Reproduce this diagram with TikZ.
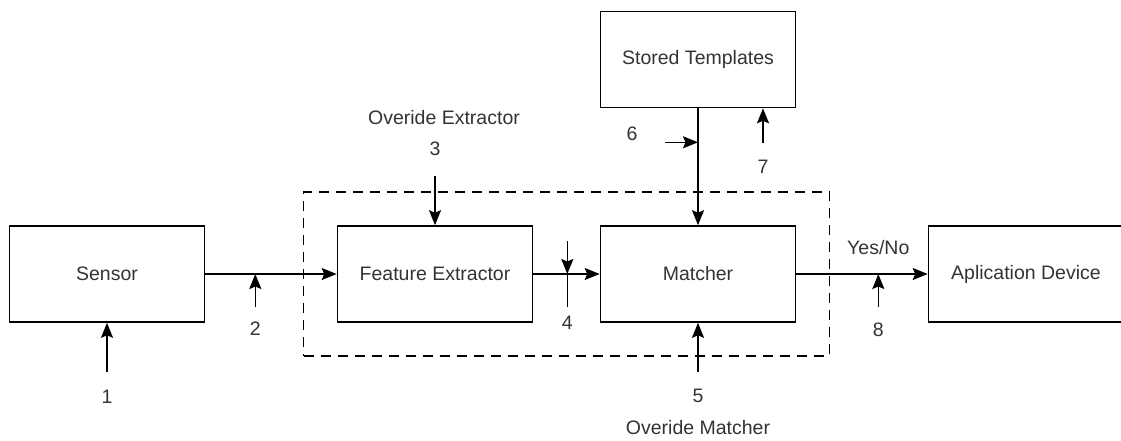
\documentclass[tikz,border=0pt]{standalone}
\usepackage{fontspec}
\setmainfont{Liberation Sans}
\usetikzlibrary{arrows.meta, fit}
\tikzstyle{block} = [rectangle, minimum width=195pt, minimum height=96pt, text centered, draw=black, line width=1.6pt, text=black!80, font=\fontsize{19.5}{23}\selectfont]
\tikzstyle{group} = [rectangle, draw=black, line width=1.5pt, dash pattern=on 10pt off 7pt, inner sep=33pt]
\tikzstyle{note} = [text=black!80, font=\fontsize{19.5}{23}\selectfont, inner sep=0pt]
\tikzstyle{wire} = [line width=1.6pt]
\tikzstyle{arrow} = [line width=1.6pt, -{Stealth[length=15pt, width=12pt, inset=2.5pt]}]

\begin{document}
\begin{tikzpicture}[x=1pt, y=-1pt, node distance=328pt]
\useasboundingbox (0,0) rectangle (1121,440);
% Define the blocks
\node (sensor) [block] at (107,274) {Sensor};
\node (extractor) [block, right of=sensor] {Feature Extractor};
\node (matcher) [block, right of=extractor, xshift=-65pt] {Matcher};
\node (device) [block, right of=matcher] {Aplication Device};
\node (stored) [block, above of=matcher, node distance=214.5pt] {Stored Templates};
\node (system) [group, fit=(extractor) (matcher)] {};

% Points where the attacks meet the lines
\coordinate (j2) at ([xshift=50pt]sensor.east);
\coordinate (j4) at ([xshift=34pt]extractor.east);
\coordinate (j6) at ([yshift=-34pt]stored.south);
\coordinate (j7) at ([xshift=65pt]stored.south);
\coordinate (j8) at ([xshift=82pt]matcher.east);

\coordinate (in1) at ([yshift=-49pt]sensor.south);
\coordinate (in2) at ([yshift=-33pt]j2);
\coordinate (in3) at ([yshift=49pt]extractor.north);
\coordinate (in4) at ([yshift=33pt]j4);
\coordinate (out4) at ([yshift=-33pt]j4);
\coordinate (in5) at ([yshift=-49pt]matcher.south);
\coordinate (in6) at ([xshift=-33pt]j6);
\coordinate (in7) at ([yshift=-35pt]j7);
\coordinate (in8) at ([yshift=-33pt]j8);

% Draw the arrows
\draw [arrow] (sensor.east) -- (extractor.west);
\draw [arrow] (extractor.east) -- (matcher.west);
\draw [arrow] (matcher.east) -- (device.west);
\draw [arrow] (stored.south) -- (matcher.north);

\draw [arrow] (in1) -- (sensor.south);
\draw [arrow] (in2) -- (j2);
\draw [arrow] (in3) -- (extractor.north);
\draw [arrow] (in4) -- (j4);
\draw [wire] (j4) -- (out4);
\draw [arrow] (in5) -- (matcher.south);
\draw [arrow] (in6) -- (j6);
\draw [arrow] (in7) -- (j7);
\draw [arrow] (in8) -- (j8);

% Labels
\node (n1) [note] at ([yshift=-25pt]in1) {1};
\node (n2) [note] at ([yshift=-22pt]in2) {2};
\node (n3) [note] at ([yshift=27pt]in3) {3};
\node (t3) [note] at ([xshift=9pt, yshift=32pt]n3) {Overide Extractor};
\node (n4) [note] at ([yshift=-16pt]out4) {4};
\node (n5) [note] at ([yshift=-24pt]in5) {5};
\node (t5) [note] at ([yshift=-32pt]n5) {Overide Matcher};
\node (n6) [note] at ([xshift=-33pt, yshift=9pt]in6) {6};
\node (n7) [note] at ([yshift=-23pt]in7) {7};
\node (n8) [note] at ([yshift=-23pt]in8) {8};
\node (yesno) [note] at ([yshift=26pt]j8) {Yes/No};

\end{tikzpicture}
\end{document}
